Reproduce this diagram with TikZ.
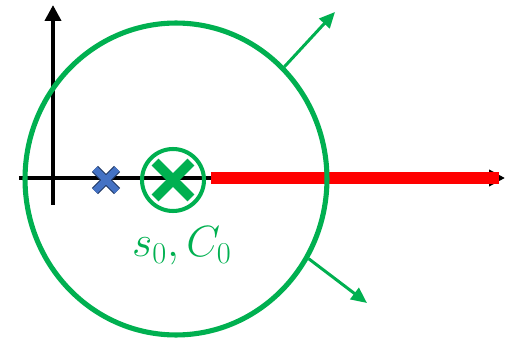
\documentclass[tikz,border=0pt]{standalone}
\usetikzlibrary{arrows.meta,shapes.geometric,shapes.misc}
\definecolor{polegreen}{RGB}{0,176,80}
\definecolor{poleblue}{RGB}{68,114,196}
\definecolor{poleedge}{RGB}{32,56,100}
\definecolor{cutred}{RGB}{255,0,0}
\tikzset{
  axis/.style={
    line width=2.2pt,
    -{Triangle[length=9pt,width=9pt]}
  },
  cut/.style={draw=cutred, line width=6.8pt},
  flow/.style={
    draw=polegreen,
    line width=1.7pt,
    -{Triangle[length=9pt,width=8pt]}
  },
  region/.style={
    ellipse,
    draw=polegreen,
    line width=2.9pt,
    minimum width=6.04cm,
    minimum height=6.24cm,
    inner sep=0pt
  },
  ring/.style={
    circle,
    draw=polegreen,
    line width=2.3pt,
    minimum size=1.24cm,
    inner sep=0pt
  },
  pole-green/.style={
    cross out,
    draw=polegreen,
    line width=5.6pt,
    minimum size=0.52cm,
    inner sep=0pt
  },
  pole-blue/.style={
    cross out,
    draw=poleedge,
    double=poleblue,
    double distance=3.8pt,
    line width=0.6pt,
    minimum size=0.42cm,
    inner sep=0pt
  }
}

\begin{document}
\begin{tikzpicture}[x=0.02cm, y=-0.02cm]
  \useasboundingbox (0,0) rectangle (505,338);
  % axes
  \coordinate (xstart) at (19,178);
  \coordinate (xend) at (505,178);
  \coordinate (ystart) at (53,205);
  \coordinate (yend) at (53,5);
  \draw[axis] (xstart) -- (xend);
  \draw[axis] (ystart) -- (yend);
  % branch cut
  \coordinate (cutstart) at (211,178);
  \coordinate (cutend) at (499,178);
  \draw[cut] (cutstart) -- (cutend);
  % circles and poles
  \node[region] (big) at (176,179) {};
  \node[ring] (small) at (173,180) {};
  \node[pole-green] (s0) at (173,180) {};
  \node[pole-blue] (s1) at (106,180) {};
  \node[text=polegreen, font=\fontsize{24pt}{28pt}\selectfont]
    (lbl) at (182,246) {$s_0, C_0$};
  % outward arrows
  \coordinate (up) at (335,12);
  \coordinate (down) at (367,303);
  \draw[flow] (big.46) -- (up);
  \draw[flow] (big.-31) -- (down);
\end{tikzpicture}
\end{document}
